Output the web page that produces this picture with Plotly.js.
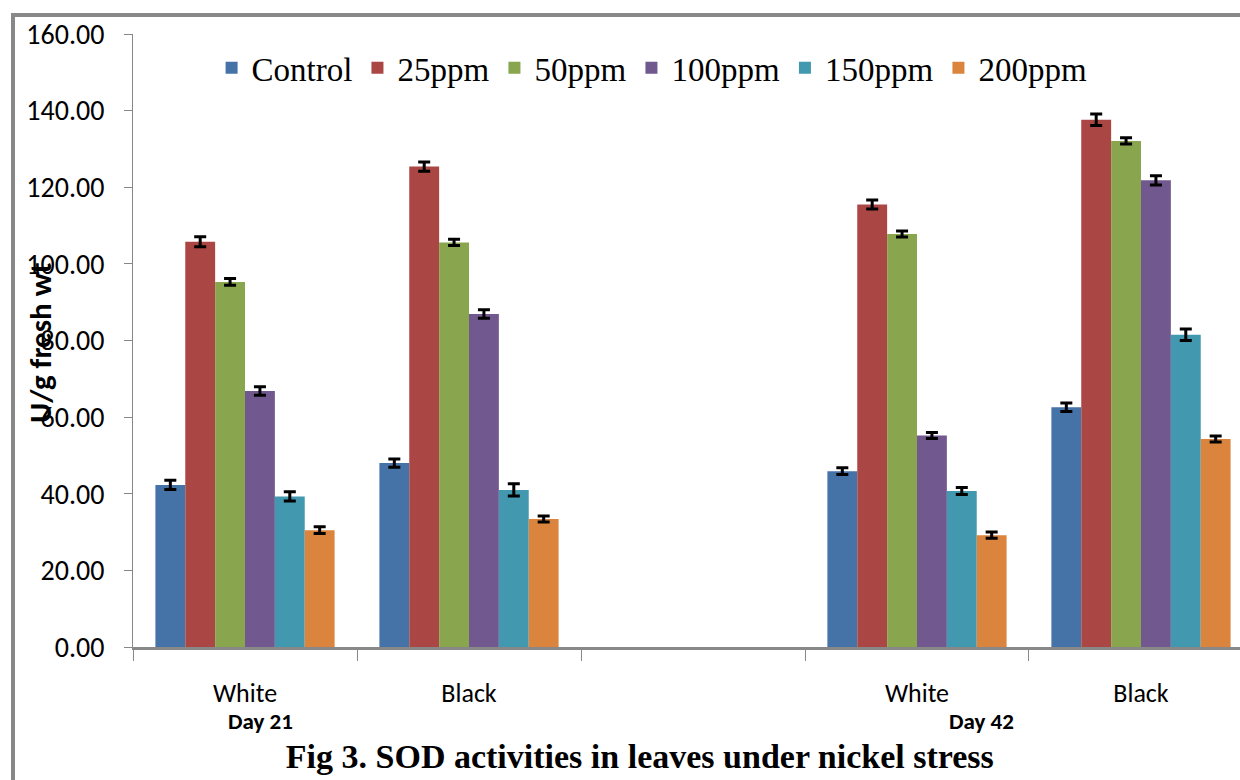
<!DOCTYPE html>
<html>
<head>
<meta charset="utf-8">
<script src="https://cdn.plot.ly/plotly-3.0.1.min.js"></script>
<style>
html,body{margin:0;padding:0;background:#fff;overflow:hidden;}
#chart{width:1240px;height:780px;}
</style>
</head>
<body>
<div id="chart"></div>
<script>
// Group positions: 0 = White (Day 21), 1 = Black (Day 21), 3 = White (Day 42), 4 = Black (Day 42)
const groupPos = [0, 1, 3, 4];
const groupLabels = ["White", "Black", "White", "Black"];
const seriesNames = ["Control", "25ppm", "50ppm", "100ppm", "150ppm", "200ppm"];
const seriesColors = ["#4572A7", "#AA4643", "#89A54E", "#71588F", "#4198AF", "#DB843D"];

const control = [42.3, 48.0, 45.9, 62.6];
const ppm25   = [105.8, 125.4, 115.5, 137.6];
const ppm50   = [95.3, 105.6, 107.8, 132.1];
const ppm100  = [66.8, 86.9, 55.2, 121.8];
const ppm150  = [39.3, 41.0, 40.7, 81.5];
const ppm200  = [30.5, 33.4, 29.2, 54.3];

const errControl = [1.2, 1.1, 0.9, 1.1];
const err25      = [1.3, 1.2, 1.2, 1.5];
const err50      = [0.9, 0.8, 0.8, 0.8];
const err100     = [1.1, 1.1, 0.8, 1.2];
const err150     = [1.2, 1.6, 0.9, 1.5];
const err200     = [0.9, 0.8, 0.8, 0.8];

const seriesValues = [control, ppm25, ppm50, ppm100, ppm150, ppm200];
const seriesErrors = [errControl, err25, err50, err100, err150, err200];

const axisFont = "Carlito, 'Liberation Sans Narrow', 'Liberation Sans', sans-serif";
const serifFont = "'Liberation Serif', 'DejaVu Serif', serif";

const traces = seriesNames.map((name, i) => ({
  type: "bar",
  name: name,
  x: groupPos,
  y: seriesValues[i],
  marker: {color: seriesColors[i], line: {width: 0}},
  error_y: {type: "data", array: seriesErrors[i], visible: true, color: "#000", thickness: 3, width: 6}
}));

const layout = {
  width: 1240, height: 780,
  margin: {l: 133, r: 0, t: 34, b: 133, pad: 0},
  paper_bgcolor: "#fff", plot_bgcolor: "#fff",
  barmode: "group", bargap: 0.2, bargroupgap: 0,
  showlegend: true,
  legend: {
    orientation: "h", x: 0.071, xanchor: "left", y: 0.945, yanchor: "middle",
    font: {family: serifFont, size: 33, color: "#000"},
    bgcolor: "rgba(0,0,0,0)", itemclick: false, traceorder: "normal"
  },
  title: {
    text: "<b>Fig 3. SOD activities in leaves under nickel stress</b>",
    font: {family: serifFont, size: 34, color: "#000"},
    x: 0.516, xanchor: "center", xref: "container", y: 0.031, yanchor: "middle", yref: "container"
  },
  xaxis: {
    type: "linear", range: [-0.5, 4.442], fixedrange: true,
    tickmode: "array", tickvals: groupPos, ticktext: groupLabels,
    ticks: "", ticklabelstandoff: 21,
    tickfont: {family: axisFont, size: 26, color: "#000"},
    showgrid: false, zeroline: false,
    showline: true, linecolor: "#888", linewidth: 3,
    minor: {tick0: -0.5, dtick: 1, ticks: "outside", ticklen: 11, tickcolor: "#888", tickwidth: 1, showgrid: false}
  },
  yaxis: {
    range: [0, 160], fixedrange: true,
    tickmode: "linear", tick0: 0, dtick: 20, tickformat: ".2f",
    ticks: "outside", ticklen: 8, tickcolor: "#888", tickwidth: 1,
    ticklabelstandoff: 14,
    tickfont: {family: axisFont, size: 28, color: "#000"},
    showgrid: false, zeroline: false,
    showline: true, linecolor: "#888", linewidth: 1
  },
  annotations: [
    {text: "<b>U/g fresh wt</b>", textangle: -90, xref: "paper", yref: "paper",
     x: (40 - 133) / 1107, y: (647 - 343) / 613, xanchor: "center", yanchor: "middle",
     showarrow: false, font: {family: axisFont, size: 31, color: "#000"}},
    {text: "<b>Day 21</b>", xref: "x", yref: "paper", x: 0.07, y: (647 - 721) / 613,
     xanchor: "center", yanchor: "middle", showarrow: false,
     font: {family: axisFont, size: 23, color: "#000"}},
    {text: "<b>Day 42</b>", xref: "x", yref: "paper", x: 3.29, y: (647 - 721) / 613,
     xanchor: "center", yanchor: "middle", showarrow: false,
     font: {family: axisFont, size: 23, color: "#000"}}
  ],
  shapes: [
    {type: "line", xref: "paper", yref: "paper", x0: (13 - 133) / 1107, x1: (13 - 133) / 1107,
     y0: (647 - 15) / 613, y1: (647 - 790) / 613, line: {color: "#888", width: 4}},
    {type: "line", xref: "paper", yref: "paper", x0: (11 - 133) / 1107, x1: 1.01,
     y0: (647 - 15) / 613, y1: (647 - 15) / 613, line: {color: "#888", width: 4}}
  ]
};

Plotly.newPlot("chart", traces, layout, {displayModeBar: false, staticPlot: true});
</script>
</body>
</html>
